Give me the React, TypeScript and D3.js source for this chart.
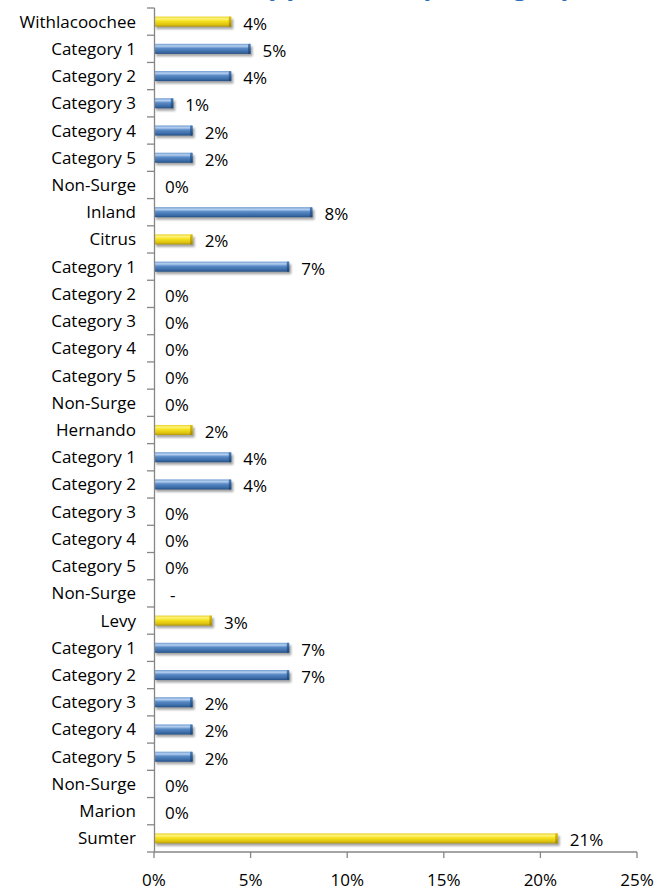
import React from "react";
import * as d3 from "d3";

const categories = [
  "Withlacoochee", "Category 1", "Category 2", "Category 3", "Category 4", "Category 5", "Non-Surge", "Inland",
  "Citrus", "Category 1", "Category 2", "Category 3", "Category 4", "Category 5", "Non-Surge",
  "Hernando", "Category 1", "Category 2", "Category 3", "Category 4", "Category 5", "Non-Surge",
  "Levy", "Category 1", "Category 2", "Category 3", "Category 4", "Category 5", "Non-Surge",
  "Marion", "Sumter",
];
const values: (number | null)[] = [
  0.04, 0.05, 0.04, 0.01, 0.02, 0.02, 0, 0.082,
  0.02, 0.07, 0, 0, 0, 0, 0,
  0.02, 0.04, 0.04, 0, 0, 0, null,
  0.03, 0.07, 0.07, 0.02, 0.02, 0.02, 0,
  0, 0.209,
];
const rowKinds = [
  "county", "zone", "zone", "zone", "zone", "zone", "zone", "zone",
  "county", "zone", "zone", "zone", "zone", "zone", "zone",
  "county", "zone", "zone", "zone", "zone", "zone", "zone",
  "county", "zone", "zone", "zone", "zone", "zone", "zone",
  "county", "county",
];
const xTicks = [0, 0.05, 0.1, 0.15, 0.2, 0.25];
const titleText = "Applicants by Category";

const W = 671;
const H = 890;
const FONT = "'Open Sans', Carlito, Calibri, sans-serif";

export default function App() {
  const x = d3.scaleLinear().domain([0, 0.25]).range([154, 637]);
  const y = d3
    .scaleBand<number>()
    .domain(d3.range(categories.length))
    .range([8, 852])
    .paddingInner(0.63)
    .paddingOuter(0.315);
  const step = y.step();
  const bw = y.bandwidth();
  const fmt = d3.format(".0%");
  const axisColor = "#868686";
  const boundaries = d3.range(categories.length + 1).map((k) => 8 + k * step);

  return (
    <svg
      width={W}
      height={H}
      style={{ position: "absolute", left: 0, top: 0, background: "#fff" }}
      fontFamily={FONT}
    >
      <defs>
        <linearGradient id="gBlue" x1="0" y1="0" x2="0" y2="1">
          <stop offset="0" stopColor="#6E9AD0" />
          <stop offset="0.22" stopColor="#B5D0F0" />
          <stop offset="0.45" stopColor="#5A8AC6" />
          <stop offset="0.8" stopColor="#3C6CA8" />
          <stop offset="1" stopColor="#234F86" />
        </linearGradient>
        <linearGradient id="gYellow" x1="0" y1="0" x2="0" y2="1">
          <stop offset="0" stopColor="#E8D22A" />
          <stop offset="0.22" stopColor="#FFF47A" />
          <stop offset="0.45" stopColor="#F6E21E" />
          <stop offset="0.8" stopColor="#DEC210" />
          <stop offset="1" stopColor="#B39806" />
        </linearGradient>
        <linearGradient id="gBlueCap" x1="0" y1="0" x2="0" y2="1">
          <stop offset="0" stopColor="#4F7FB8" />
          <stop offset="0.5" stopColor="#2E5E98" />
          <stop offset="1" stopColor="#1D4677" />
        </linearGradient>
        <linearGradient id="gYellowCap" x1="0" y1="0" x2="0" y2="1">
          <stop offset="0" stopColor="#D8BE14" />
          <stop offset="0.5" stopColor="#C4A80A" />
          <stop offset="1" stopColor="#A08604" />
        </linearGradient>
        <filter id="shadow" x="-10%" y="-50%" width="120%" height="250%">
          <feGaussianBlur stdDeviation="1.2" />
        </filter>
      </defs>

      <text
        x={246}
        y={-4}
        fontSize={32}
        fontWeight="bold"
        fill="#2F6EBA"
        fontFamily="Lato, sans-serif"
      >
        {titleText}
      </text>

      {/* bars */}
      {values.map((v, i) => {
        if (v === null || v <= 0) return null;
        const y0 = y(i) as number;
        const x0 = x(0) + 1;
        const w = x(v) - x0;
        const county = rowKinds[i] === "county";
        return (
          <g key={"b" + i}>
            <rect
              x={x0 + 1}
              y={y0 + 2.5}
              width={w + 1}
              height={bw}
              fill="#000"
              opacity={0.35}
              filter="url(#shadow)"
            />
            <rect
              x={x0}
              y={y0}
              width={w}
              height={bw}
              fill={county ? "url(#gYellow)" : "url(#gBlue)"}
            />
            <rect
              x={x0 + w - 2.5}
              y={y0}
              width={2.5}
              height={bw}
              rx={1}
              fill={county ? "url(#gYellowCap)" : "url(#gBlueCap)"}
            />
          </g>
        );
      })}

      {/* y axis */}
      <line x1={154.5} x2={154.5} y1={8} y2={852} stroke={axisColor} strokeWidth={1.3} />
      {boundaries.map((b, k) => (
        <line key={"yt" + k} x1={147} x2={154.5} y1={b} y2={b} stroke={axisColor} strokeWidth={1.3} />
      ))}

      {/* x axis */}
      <line x1={154} x2={637} y1={852} y2={852} stroke={axisColor} strokeWidth={1.3} />
      {xTicks.map((t) => (
        <g key={"xt" + t}>
          <line x1={x(t)} x2={x(t)} y1={852} y2={858} stroke={axisColor} strokeWidth={1.3} />
          <text x={x(t)} y={886} fontSize={17} textAnchor="middle" fill="#000">
            {fmt(t)}
          </text>
        </g>
      ))}

      {/* category labels */}
      {categories.map((c, i) => (
        <text
          key={"c" + i}
          x={136}
          y={(y(i) as number) + bw / 2 + 6}
          fontSize={17}
          textAnchor="end"
          fill="#000"
        >
          {c}
        </text>
      ))}

      {/* data labels */}
      {values.map((v, i) => {
        const cy = (y(i) as number) + bw / 2 + 8;
        if (v === null) {
          return (
            <text key={"l" + i} x={170} y={cy} fontSize={17} fill="#000">
              -
            </text>
          );
        }
        const lx = v > 0 ? x(v) + 12 : x(0) + 11;
        return (
          <text key={"l" + i} x={lx} y={cy} fontSize={17} fill="#000">
            {fmt(v)}
          </text>
        );
      })}
    </svg>
  );
}
